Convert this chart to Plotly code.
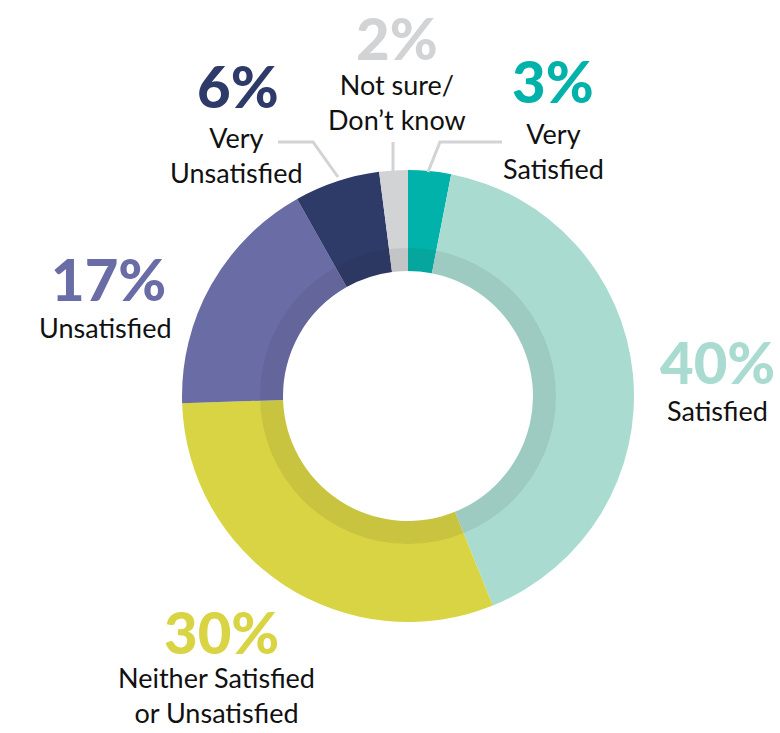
import plotly.graph_objects as go

W, H = 780, 733

categories = ["Very Satisfied", "Satisfied", "Neither Satisfied or Unsatisfied",
              "Unsatisfied", "Very Unsatisfied", "Not sure/Don't know"]
values = [3, 40, 30, 17, 6, 2]
colors = ["#00B2A9", "#A9DBD0", "#D9D443", "#6A6CA6", "#2E3A68", "#D2D3D5"]
pct_labels = ["3%", "40%", "30%", "17%", "6%", "2%"]
name_labels = ["Very<br>Satisfied", "Satisfied", "Neither Satisfied<br>or Unsatisfied",
               "Unsatisfied", "Very<br>Unsatisfied", "Not sure/<br>Don\u2019t know"]

# layout positions (pixels, centre of each text block)
pct_pos = [(553, 80), (717, 362), (221, 631), (108, 278), (238, 85), (397, 37)]
name_pos = [(553, 151), (717, 410), (216, 695), (105, 327), (237, 155), (397, 102)]

CX, CY, R = 408, 396, 226
R_SH_OUT, R_SH_IN = 148, 125


def px(x):
    return x / W


def py(y):
    return 1 - y / H


def dom(r):
    return dict(x=[px(CX - r), px(CX + r)], y=[py(CY + r), py(CY - r)])


fig = go.Figure()
fig.add_trace(go.Pie(
    labels=categories, values=values, sort=False, direction="clockwise", rotation=0,
    hole=R_SH_IN / R, marker=dict(colors=colors, line=dict(width=0)),
    textinfo="none", hoverinfo="skip", domain=dom(R), showlegend=False,
))
# inner shadow ring
fig.add_trace(go.Pie(
    values=[1], sort=False, hole=R_SH_IN / R_SH_OUT,
    marker=dict(colors=["rgba(40,40,40,0.09)"], line=dict(width=0)),
    textinfo="none", hoverinfo="skip", domain=dom(R_SH_OUT), showlegend=False,
))

annotations = []
for i, cat in enumerate(categories):
    x, y = pct_pos[i]
    annotations.append(dict(
        x=px(x), y=py(y), xref="paper", yref="paper", showarrow=False,
        text=pct_labels[i], xanchor="center", yanchor="middle",
        font=dict(family="Lato", size=58, color=colors[i], weight=900),
    ))
    nx, ny = name_pos[i]
    annotations.append(dict(
        x=px(nx), y=py(ny), xref="paper", yref="paper", showarrow=False,
        text=name_labels[i], xanchor="center", yanchor="middle", align="center",
        font=dict(family="Lato", size=27, color="#111111"),
    ))

# leader lines
lc = "#D2D3D5"
leaders = [
    [(502, 142), (440, 142), (428, 172)],
    [(393, 142), (393, 172)],
    [(278, 142), (313, 142), (338, 177)],
]
shapes = []
for pts in leaders:
    path = "M " + " L ".join(f"{px(a):.5f},{py(b):.5f}" for a, b in pts)
    shapes.append(dict(type="path", path=path, xref="paper", yref="paper",
                       line=dict(color=lc, width=3)))

fig.update_layout(
    width=W, height=H, margin=dict(l=0, r=0, t=0, b=0),
    paper_bgcolor="white", plot_bgcolor="white",
    annotations=annotations, shapes=shapes, showlegend=False,
)
fig.write_html("out.html", config={"displayModeBar": False},
               post_script="document.body.style.margin='0px';")
